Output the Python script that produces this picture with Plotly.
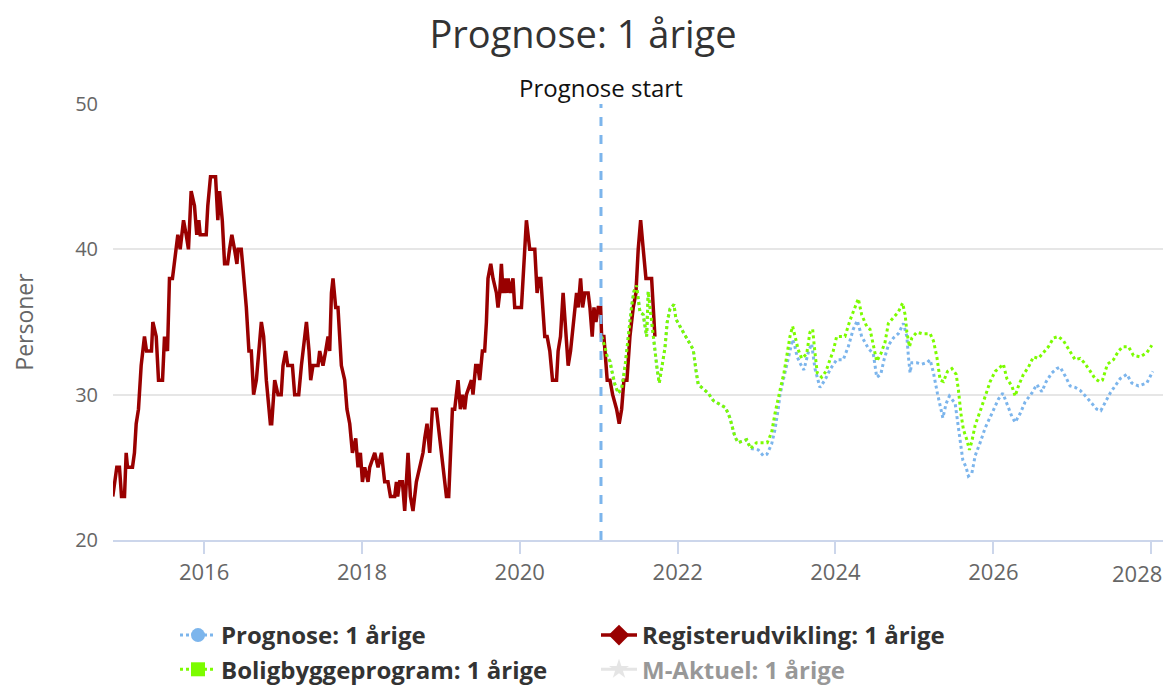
import pandas as pd
import plotly.graph_objects as go

# ---------------- data (decimal years / persons) ----------------
reg_t = [2014.842, 2014.893, 2014.927, 2014.953, 2014.991, 2015.012, 2015.029, 2015.092, 2015.117, 2015.139,
         2015.168, 2015.202, 2015.244, 2015.270, 2015.333, 2015.350, 2015.393, 2015.422, 2015.473, 2015.498,
         2015.536, 2015.561, 2015.599, 2015.646, 2015.667, 2015.697, 2015.713, 2015.739, 2015.773, 2015.802,
         2015.836, 2015.878, 2015.907, 2015.933, 2015.951, 2016.027, 2016.047, 2016.081, 2016.145, 2016.174,
         2016.195, 2016.230, 2016.259, 2016.297, 2016.322, 2016.351, 2016.385, 2016.415, 2016.430, 2016.470,
         2016.487, 2016.503, 2016.534, 2016.567, 2016.597, 2016.626, 2016.661, 2016.724, 2016.753, 2016.787,
         2016.838, 2016.855, 2016.893, 2016.935, 2016.975, 2016.998, 2017.032, 2017.058, 2017.117, 2017.146,
         2017.197, 2017.231, 2017.273, 2017.295, 2017.328, 2017.349, 2017.378, 2017.442, 2017.463, 2017.505,
         2017.539, 2017.569, 2017.590, 2017.612, 2017.632, 2017.666, 2017.695, 2017.738, 2017.780, 2017.809,
         2017.844, 2017.878, 2017.920, 2017.949, 2017.979, 2018.005, 2018.034, 2018.076, 2018.097, 2018.161,
         2018.203, 2018.246, 2018.287, 2018.329, 2018.360, 2018.414, 2018.436, 2018.452, 2018.478, 2018.512,
         2018.541, 2018.583, 2018.613, 2018.646, 2018.689, 2018.731, 2018.773, 2018.795, 2018.824, 2018.858,
         2018.892, 2018.943, 2018.985, 2019.027, 2019.070, 2019.099, 2019.146, 2019.175, 2019.217, 2019.247,
         2019.273, 2019.302, 2019.323, 2019.387, 2019.407, 2019.441, 2019.467, 2019.492, 2019.526, 2019.555,
         2019.577, 2019.597, 2019.632, 2019.661, 2019.704, 2019.724, 2019.746, 2019.767, 2019.788, 2019.809,
         2019.834, 2019.853, 2019.881, 2019.914, 2019.936, 2020.021, 2020.041, 2020.084, 2020.126, 2020.190,
         2020.219, 2020.244, 2020.266, 2020.287, 2020.316, 2020.346, 2020.380, 2020.414, 2020.465, 2020.485,
         2020.515, 2020.548, 2020.583, 2020.612, 2020.642, 2020.675, 2020.718, 2020.739, 2020.769, 2020.794,
         2020.823, 2020.865, 2020.887, 2020.916, 2020.938, 2020.963, 2020.992, 2021.023, 2021.035, 2021.064,
         2021.090, 2021.106, 2021.141, 2021.175, 2021.225, 2021.258, 2021.289, 2021.318, 2021.356, 2021.394,
         2021.436, 2021.470, 2021.499, 2021.530, 2021.563, 2021.597, 2021.669, 2021.690, 2021.711]
reg_v = [23, 25, 25, 23, 23, 26, 25, 25, 26, 28,
         29, 32, 34, 33, 33, 35, 34, 31, 31, 34,
         33, 38, 38, 40, 41, 40, 41, 42, 41, 40,
         44, 43, 41, 42, 41, 41, 43, 45, 45, 42,
         44, 42, 39, 39, 40, 41, 40, 39, 40, 40,
         39, 38, 36, 33, 33, 30, 31, 35, 34, 31,
         28, 28, 31, 30, 30, 32, 33, 32, 32, 30,
         30, 32, 34, 35, 33, 31, 32, 32, 33, 32,
         33, 34, 33, 37, 38, 36, 36, 32, 31, 29,
         28, 26, 27, 25, 26, 24, 25, 24, 25, 26,
         25, 26, 24, 24, 23, 23, 24, 23, 24, 24,
         22, 26, 23, 22, 24, 25, 26, 27, 28, 26,
         29, 29, 27, 25, 23, 23, 29, 29, 31, 29,
         30, 29, 30, 31, 30, 32, 32, 31, 33, 33,
         35, 38, 39, 38, 37, 36, 37, 39, 37, 38,
         37, 38, 37, 38, 36, 36, 38, 42, 40, 40,
         37, 38, 38, 36, 34, 34, 33, 31, 31, 33,
         34, 37, 34, 32, 33, 35, 37, 36, 38, 36,
         37, 37, 36, 34, 36, 35, 36, 36, 34, 34,
         32, 31, 31, 30, 29, 28, 29, 31, 31, 34,
         36, 37, 40, 42, 40, 38, 38, 36, 34]

# forecast part common to both forecast series (Prognose is hidden under Boligbyggeprogram here)
shared_t = [2021.035, 2021.077, 2021.106, 2021.141, 2021.162, 2021.204, 2021.246, 2021.289, 2021.331, 2021.360,
            2021.385, 2021.416, 2021.445, 2021.479, 2021.499, 2021.521, 2021.563, 2021.584, 2021.606, 2021.626,
            2021.648, 2021.682, 2021.711, 2021.740, 2021.766, 2021.796, 2021.838, 2021.867, 2021.902, 2021.952,
            2021.978, 2022.028, 2022.070, 2022.133, 2022.197, 2022.231, 2022.260, 2022.324, 2022.387, 2022.450,
            2022.535, 2022.607, 2022.662, 2022.725, 2022.767, 2022.874, 2022.924]
shared_v = [34.0, 33.3, 32.6, 32.3, 31.7, 30.7, 30.1, 30.4, 31.9, 33.3,
            34.7, 36.1, 37.1, 37.5, 36.6, 35.7, 35.5, 34.7, 34.0, 37.1,
            36.0, 34.6, 32.9, 31.7, 30.8, 31.9, 33.2, 35.0, 35.9, 36.2,
            35.2, 34.7, 34.3, 33.8, 33.1, 31.7, 30.7, 30.4, 30.1, 29.6,
            29.3, 29.1, 28.4, 27.1, 26.7, 26.9, 26.3]

bolig_tail_t = [2023.000, 2023.064, 2023.135, 2023.191, 2023.233, 2023.297, 2023.347, 2023.381, 2023.423, 2023.457,
                2023.486, 2023.528, 2023.571, 2023.635, 2023.677, 2023.711, 2023.740, 2023.769, 2023.825, 2023.879,
                2023.930, 2023.972, 2024.015, 2024.120, 2024.183, 2024.247, 2024.289, 2024.332, 2024.395, 2024.437,
                2024.479, 2024.522, 2024.573, 2024.627, 2024.669, 2024.733, 2024.796, 2024.849, 2024.881, 2024.903,
                2024.936, 2024.966, 2025.029, 2025.093, 2025.198, 2025.240, 2025.283, 2025.325, 2025.367, 2025.418,
                2025.473, 2025.528, 2025.557, 2025.588, 2025.620, 2025.663, 2025.696, 2025.727, 2025.769, 2025.841,
                2025.895, 2025.959, 2026.022, 2026.077, 2026.127, 2026.171, 2026.234, 2026.276, 2026.318, 2026.381,
                2026.445, 2026.508, 2026.571, 2026.635, 2026.698, 2026.762, 2026.825, 2026.889, 2026.964, 2027.037,
                2027.100, 2027.151, 2027.218, 2027.290, 2027.345, 2027.383, 2027.446, 2027.522, 2027.586, 2027.642,
                2027.713, 2027.776, 2027.861, 2027.946, 2028.009]
bolig_tail_v = [26.7, 26.7, 26.7, 27.4, 28.7, 30.3, 31.5, 32.6, 34.0, 34.7,
                34.0, 33.1, 32.5, 32.8, 34.3, 34.5, 32.9, 31.5, 31.2, 31.6,
                32.4, 33.0, 34.0, 34.0, 35.1, 36.1, 36.6, 35.5, 34.7, 34.5,
                33.3, 32.3, 32.8, 33.6, 34.9, 35.3, 35.7, 36.3, 35.5, 34.3,
                33.3, 33.9, 34.3, 34.2, 34.2, 33.7, 32.6, 31.0, 30.9, 31.6,
                31.8, 31.4, 30.3, 28.7, 27.6, 26.9, 26.2, 26.8, 27.9, 29.0,
                29.9, 30.9, 31.6, 31.9, 32.1, 31.1, 30.6, 29.9, 30.6, 31.4,
                31.9, 32.6, 32.5, 32.9, 33.3, 33.9, 34.0, 33.7, 33.0, 32.4,
                32.5, 32.2, 31.7, 31.1, 30.9, 31.0, 32.1, 32.4, 33.0, 33.3,
                33.3, 32.7, 32.6, 32.9, 33.4]

prog_tail_t = [2023.021, 2023.084, 2023.131, 2023.191, 2023.233, 2023.274, 2023.297, 2023.338, 2023.402, 2023.457,
               2023.486, 2023.515, 2023.558, 2023.600, 2023.655, 2023.698, 2023.740, 2023.803, 2023.866, 2023.939,
               2024.015, 2024.098, 2024.162, 2024.225, 2024.276, 2024.301, 2024.332, 2024.415, 2024.479, 2024.522,
               2024.573, 2024.614, 2024.669, 2024.733, 2024.796, 2024.859, 2024.903, 2024.923, 2024.944, 2024.966,
               2025.029, 2025.093, 2025.156, 2025.198, 2025.240, 2025.290, 2025.325, 2025.359, 2025.401, 2025.442,
               2025.515, 2025.544, 2025.578, 2025.612, 2025.654, 2025.683, 2025.727, 2025.769, 2025.832, 2025.895,
               2025.980, 2026.064, 2026.120, 2026.171, 2026.234, 2026.276, 2026.339, 2026.402, 2026.487, 2026.551,
               2026.614, 2026.669, 2026.741, 2026.804, 2026.846, 2026.909, 2026.973, 2027.037, 2027.100, 2027.184,
               2027.248, 2027.311, 2027.362, 2027.417, 2027.480, 2027.543, 2027.607, 2027.692, 2027.755, 2027.839,
               2027.945, 2028.021]
prog_tail_v = [26.2, 25.8, 25.9, 26.6, 27.6, 29.0, 30.0, 31.0, 32.6, 33.8,
               33.3, 32.6, 32.1, 31.7, 32.9, 33.5, 31.8, 30.5, 31.0, 31.8,
               32.4, 32.4, 33.3, 34.5, 35.1, 34.6, 34.0, 33.2, 32.8, 31.2,
               31.4, 32.4, 33.4, 33.9, 34.2, 34.9, 34.0, 32.6, 31.5, 32.2,
               32.2, 32.1, 32.2, 32.4, 31.5, 30.1, 29.2, 28.4, 29.4, 29.9,
               29.4, 28.3, 26.7, 25.5, 25.0, 24.4, 24.6, 25.8, 26.7, 27.7,
               28.7, 29.7, 30.1, 29.4, 28.5, 28.1, 28.7, 29.5, 30.1, 30.7,
               30.2, 30.9, 31.5, 31.8, 31.9, 31.3, 30.6, 30.5, 30.3, 29.8,
               29.4, 29.0, 28.9, 29.5, 30.1, 30.6, 31.1, 31.4, 30.8, 30.6,
               30.8, 31.6]

tick_years = [2016, 2018, 2020, 2022, 2024, 2026, 2028]
y_ticks = [20, 30, 40, 50]
x_range_years = [2014.845, 2028.226]
prognose_start_year = 2021.027

names = ["Prognose: 1 årige", "Registerudvikling: 1 årige",
         "Boligbyggeprogram: 1 årige", "M-Aktuel: 1 årige"]


def to_date(y):
    yr = int(y)
    start = pd.Timestamp(yr, 1, 1)
    end = pd.Timestamp(yr + 1, 1, 1)
    return start + (end - start) * (y - yr)


def dates(lst):
    return [to_date(v) for v in lst]


prog_x = dates(shared_t + prog_tail_t)
prog_y = shared_v + prog_tail_v
bolig_x = dates(shared_t + bolig_tail_t)
bolig_y = shared_v + bolig_tail_v
reg_x = dates(reg_t)

BLUE = "#7cb5ec"
RED = "#990000"
GREEN = "#7cfc00"
FONT = "Open Sans"
TICK_FONT = dict(family=FONT, size=22, color="#666666")

fig = go.Figure()

# data traces (no legend) in Highcharts drawing order
fig.add_trace(go.Scatter(x=prog_x, y=prog_y, mode="lines", showlegend=False, legendgroup="p",
                         line=dict(color=BLUE, width=3, dash="dot"), hoverinfo="skip"))
fig.add_trace(go.Scatter(x=reg_x, y=reg_v, mode="lines", showlegend=False, legendgroup="r",
                         line=dict(color=RED, width=3.5), hoverinfo="skip"))
fig.add_trace(go.Scatter(x=bolig_x, y=bolig_y, mode="lines", showlegend=False, legendgroup="b",
                         line=dict(color=GREEN, width=3, dash="dot"), hoverinfo="skip"))

# legend entries
fig.add_trace(go.Scatter(x=[None], y=[None], mode="lines+markers", name=names[0], legendgroup="p",
                         line=dict(color=BLUE, width=3, dash="dot"),
                         marker=dict(symbol="circle", size=14, color=BLUE)))
fig.add_trace(go.Scatter(x=[None], y=[None], mode="lines+markers", name=names[1], legendgroup="r",
                         line=dict(color=RED, width=3.5),
                         marker=dict(symbol="diamond", size=16, color=RED)))
fig.add_trace(go.Scatter(x=[None], y=[None], mode="lines+markers", name=names[2], legendgroup="b",
                         line=dict(color=GREEN, width=3, dash="dot"),
                         marker=dict(symbol="square", size=14, color=GREEN)))
fig.add_trace(go.Scatter(x=[None], y=[None], mode="lines+markers", name=names[3],
                         visible="legendonly",
                         line=dict(color="#cccccc", width=3),
                         marker=dict(symbol="star", size=15, color="#cccccc")))

start_date = to_date(prognose_start_year)
fig.add_shape(type="line", xref="x", yref="paper", x0=start_date, x1=start_date, y0=0, y1=1,
              line=dict(color=BLUE, width=3, dash="dash"))
fig.add_annotation(x=start_date, xref="x", y=1, yref="paper", yanchor="bottom", yshift=-2,
                   text="Prognose start", showarrow=False,
                   font=dict(family=FONT, size=24, color="#111111"))

# the last tick label is pulled inside the chart edge (as in the reference)
tick_text = [str(y) for y in tick_years[:-1]] + [""]
fig.add_annotation(x=pd.Timestamp(tick_years[-1], 1, 1), xref="x", y=0, yref="paper",
                   xanchor="right", yanchor="top", xshift=13, yshift=-16,
                   text=str(tick_years[-1]), showarrow=False, font=TICK_FONT)

fig.update_layout(
    width=1171, height=687,
    margin=dict(l=105, r=10, t=96, b=155, autoexpand=False),
    paper_bgcolor="white", plot_bgcolor="white",
    title=dict(text="Prognose: 1 årige", x=575 / 1171, xanchor="center",
               y=1 - 27 / 687, yref="container",
               yanchor="middle", font=dict(family=FONT, size=38, color="#333333")),
    font=dict(family=FONT),
    xaxis=dict(type="date", range=[to_date(x_range_years[0]), to_date(x_range_years[1])],
               tickvals=[pd.Timestamp(y, 1, 1) for y in tick_years],
               ticktext=tick_text,
               ticklabeloverflow="allow",
               showgrid=False, zeroline=False,
               showline=True, linecolor="#ccd6eb", linewidth=2,
               ticks="outside", ticklen=12, tickcolor="#ccd6eb", tickwidth=1.5,
               tickfont=TICK_FONT),
    yaxis=dict(range=[20, 50], tickvals=y_ticks, showgrid=True, gridcolor="#e6e6e6", gridwidth=1.5,
               zeroline=False, showline=False, ticks="",
               ticklabelstandoff=14,
               tickfont=dict(family=FONT, size=20, color="#666666"),
               title=dict(text="Personer", standoff=40,
                          font=dict(family=FONT, size=23, color="#666666"))),
    legend=dict(orientation="h", x=62 / 1056, xanchor="left", y=-0.1674, yanchor="top",
                entrywidth=370, entrywidthmode="pixels", itemwidth=36,
                font=dict(family=FONT, size=24, color="#333333", weight="bold"),
                tracegroupgap=0, itemclick=False, itemdoubleclick=False),
    showlegend=True,
)

fig.write_html("out.html")
